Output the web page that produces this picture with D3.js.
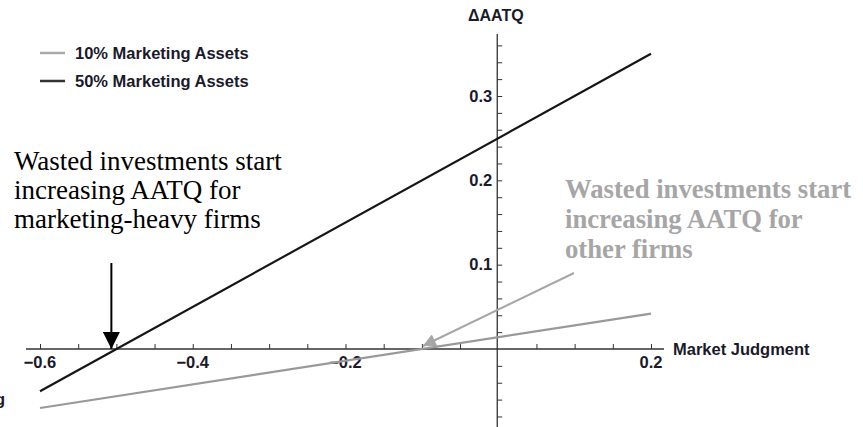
<!DOCTYPE html>
<html>
<head>
<meta charset="utf-8">
<script src="https://cdn.jsdelivr.net/npm/d3@7"></script>
<style>
  body { margin: 0; background: #fff; }
  svg { display: block; }
  .lab { font-family: "Liberation Sans", Arial, sans-serif; font-weight: bold; fill: #1a1a2a; }
</style>
</head>
<body>
<div id="chart"></div>
<script>
// data
const judgment = [-0.6, 0.2];
const series10 = [-0.07, 0.042];
const series50 = [-0.05, 0.35];
const seriesNames = ["10% Marketing Assets", "50% Marketing Assets"];
const xTicks = [-0.6, -0.4, -0.2, 0.2];
const yTicks = [0.1, 0.2, 0.3];
const crossings = [-0.5, -0.1]; // where each line crosses zero

const width = 863, height = 427;

const svg = d3.select("#chart").append("svg")
  .attr("width", width)
  .attr("height", height);

const x = d3.scaleLinear().domain([-0.6, 0.2]).range([40, 651]);
const y = d3.scaleLinear().domain([0, 0.3]).range([349, 96]);

const axisColor = "#333";

// x axis (ticks point up)
const xMinor = d3.range(-0.6, 0.2001, 0.05).map(v => +v.toFixed(2)).filter(v => v !== 0);
const gx = svg.append("g").attr("transform", `translate(0,${y(0)})`);
gx.append("line").attr("x1", 26).attr("x2", 664).attr("stroke", axisColor).attr("stroke-width", 1.3);
gx.call(d3.axisBottom(x).tickValues(xMinor).tickSizeInner(-5).tickSizeOuter(0).tickFormat(""))
  .call(g => g.select(".domain").remove())
  .call(g => g.selectAll(".tick line").attr("stroke", axisColor));
gx.selectAll(".xlab")
  .data(xTicks)
  .join("text")
  .attr("class", "lab")
  .attr("x", d => x(d))
  .attr("y", 19)
  .attr("text-anchor", "middle")
  .attr("font-size", 16.5)
  .text(d => d3.format(".1f")(d).replace("-", "\u2212"));

// y axis (ticks point right)
const yMinor = d3.range(-0.08, 0.3601, 0.02).map(v => +v.toFixed(2)).filter(v => v !== 0);
const gy = svg.append("g").attr("transform", `translate(${x(0) - 1},0)`);
gy.append("line").attr("y1", 34).attr("y2", 427).attr("stroke", axisColor).attr("stroke-width", 1.3);
gy.call(d3.axisRight(y).tickValues(yMinor).tickSizeInner(5).tickSizeOuter(0).tickFormat(""))
  .call(g => g.select(".domain").remove())
  .call(g => g.selectAll(".tick line").attr("stroke", axisColor));
gy.selectAll(".ylab")
  .data(yTicks)
  .join("text")
  .attr("class", "lab")
  .attr("x", -5)
  .attr("y", d => y(d))
  .attr("dy", "0.35em")
  .attr("text-anchor", "end")
  .attr("font-size", 16.5)
  .text(d3.format(".1f"));

svg.append("text").attr("class", "lab")
  .attr("x", 673).attr("y", 355).attr("font-size", 16.5)
  .text("Market Judgment");
svg.append("text").attr("class", "lab")
  .attr("x", 468).attr("y", 21).attr("font-size", 16)
  .text("\u0394AATQ");
// clipped letter at the bottom left edge, as in the source image
svg.append("text").attr("class", "lab")
  .attr("x", 5).attr("y", 405).attr("font-size", 16.5).attr("text-anchor", "end")
  .text("g");

// lines
const line = d3.line().x(d => x(d[0])).y(d => y(d[1]));
const colors = ["#999", "#161616"];
[series10, series50].forEach((s, i) => {
  svg.append("path")
    .datum(judgment.map((j, k) => [j, s[k]]))
    .attr("d", line)
    .attr("fill", "none")
    .attr("stroke", colors[i])
    .attr("stroke-width", 2.2);
});

// legend
const legend = svg.append("g");
seriesNames.forEach((name, i) => {
  const ly = 53 + i * 28;
  legend.append("line").attr("x1", 40).attr("x2", 65).attr("y1", ly).attr("y2", ly)
    .attr("stroke", i === 0 ? "#aaa" : "#333").attr("stroke-width", 2.5);
  legend.append("text").attr("class", "lab")
    .attr("x", 75).attr("y", ly + 5.5).attr("font-size", 16.5).text(name);
});

// arrowheads
const defs = svg.append("defs");
[["arrowBlack", "#000"], ["arrowGray", "#a6a6a6"]].forEach(([id, c]) => {
  defs.append("marker").attr("id", id)
    .attr("viewBox", "0 0 10 10").attr("refX", 10).attr("refY", 5)
    .attr("markerUnits", "userSpaceOnUse")
    .attr("markerWidth", id === "arrowBlack" ? 19 : 16)
    .attr("markerHeight", id === "arrowBlack" ? 17 : 13)
    .attr("orient", "auto")
    .append("path").attr("d", "M0,0L10,5L0,10Z").attr("fill", c);
});

svg.append("line")
  .attr("x1", x(crossings[0]) - 5).attr("y1", 263)
  .attr("x2", x(crossings[0]) - 5).attr("y2", y(0))
  .attr("stroke", "#000").attr("stroke-width", 2)
  .attr("marker-end", "url(#arrowBlack)");

svg.append("line")
  .attr("x1", 574).attr("y1", 273)
  .attr("x2", x(crossings[1]) + 1).attr("y2", y(0) - 3)
  .attr("stroke", "#a6a6a6").attr("stroke-width", 2)
  .attr("marker-end", "url(#arrowGray)");

// annotations
const noteBlack = ["Wasted investments start", "increasing AATQ for", "marketing-heavy firms"];
const noteGray = ["Wasted investments start", "increasing AATQ for", "other firms"];
svg.append("text")
  .attr("font-family", "'Liberation Serif', 'Times New Roman', serif")
  .attr("font-size", 27).attr("fill", "#000")
  .selectAll("tspan").data(noteBlack).join("tspan")
  .attr("x", 14).attr("y", (d, i) => 170 + i * 29).text(d => d);
svg.append("text")
  .attr("font-family", "'Liberation Serif', 'Times New Roman', serif")
  .attr("font-size", 26.7).attr("font-weight", "bold").attr("fill", "#a6a6a6")
  .selectAll("tspan").data(noteGray).join("tspan")
  .attr("x", 565).attr("y", (d, i) => 198 + i * 30).text(d => d);
</script>
</body>
</html>
